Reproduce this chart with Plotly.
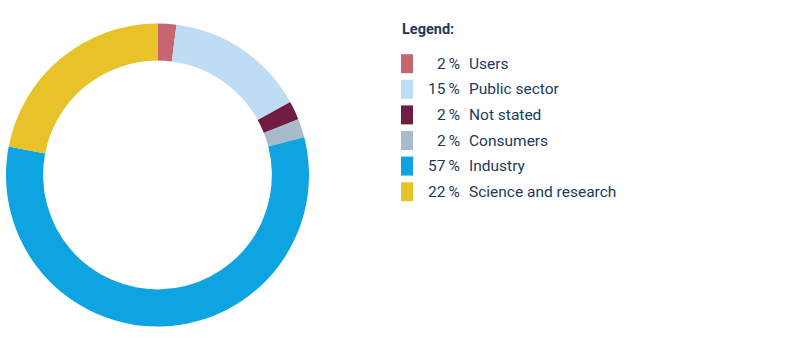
import plotly.graph_objects as go

categories = ["Users", "Public sector", "Not stated", "Consumers", "Industry", "Science and research"]
values = [2, 15, 2, 2, 57, 22]
colors = ["#c8666f", "#bfdcf5", "#6f1d42", "#a9bacb", "#0ea3e1", "#e8c229"]

W, H = 801, 351
TEXT = "#1b3a5c"
FONT = "Roboto, Open Sans, sans-serif"

fig = go.Figure(go.Pie(
    labels=categories, values=values, hole=0.755, sort=False, direction="clockwise",
    rotation=0, marker=dict(colors=colors, line=dict(width=0)),
    textinfo="none", hoverinfo="label+percent", showlegend=False,
    domain=dict(x=[6 / W, 309 / W], y=[1 - 326.7 / H, 1 - 23.3 / H]),
))

def px(x):
    return x / W

def py(y):
    return 1 - y / H

shapes = []
annotations = [dict(x=px(400), y=py(29.5), xref="paper", yref="paper", xanchor="left", yanchor="middle",
                    text="<b>Legend:</b>", showarrow=False, font=dict(family=FONT, size=14.5, color=TEXT))]
y0, dy = 63.7, 25.6
for i, (c, v, col) in enumerate(zip(categories, values, colors)):
    yc = y0 + i * dy
    shapes.append(dict(type="rect", xref="paper", yref="paper", x0=px(401), x1=px(413),
                       y0=py(yc + 9.5), y1=py(yc - 9.5), fillcolor=col, line=dict(width=0)))
    annotations.append(dict(x=px(462), y=py(yc), xref="paper", yref="paper", xanchor="right", yanchor="middle",
                            text=f"{v}\u2009%", showarrow=False, font=dict(family=FONT, size=15.5, color=TEXT)))
    annotations.append(dict(x=px(467), y=py(yc), xref="paper", yref="paper", xanchor="left", yanchor="middle",
                            text=c, showarrow=False, font=dict(family=FONT, size=15.5, color=TEXT)))

fig.update_layout(width=W, height=H, margin=dict(l=0, r=0, t=0, b=0),
                  paper_bgcolor="white", plot_bgcolor="white",
                  shapes=shapes, annotations=annotations)
fig.write_html("out.html")
